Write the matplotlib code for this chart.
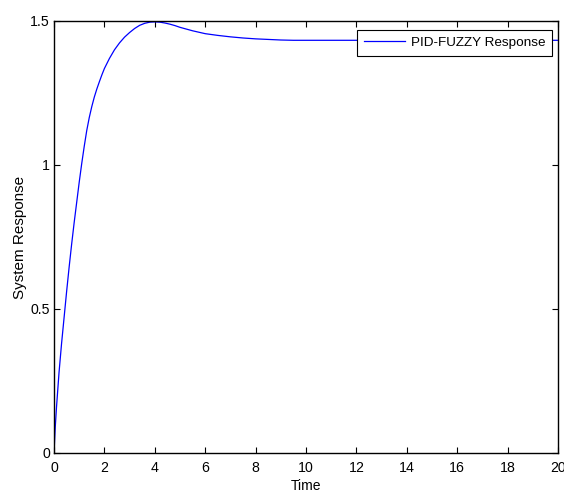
import matplotlib
matplotlib.use("Agg")
import matplotlib.pyplot as plt

time = [0, 0.05, 0.1, 0.2, 0.3, 0.4, 0.5, 0.6, 0.7, 0.8, 0.9, 1.0, 1.1, 1.2,
        1.3, 1.4, 1.5, 1.6, 1.7, 1.8, 1.9, 2.0, 2.2, 2.4, 2.6, 2.8, 3.0, 3.2,
        3.4, 3.6, 3.8, 4.0, 4.2, 4.4, 4.6, 4.8, 5.0, 5.5, 6.0, 6.5, 7.0, 7.5,
        8.0, 8.5, 9.0, 9.5, 10, 12, 14, 16, 18, 20]
response = [0, 0.09, 0.16, 0.28, 0.38, 0.47, 0.56, 0.645, 0.725, 0.80, 0.87,
            0.94, 1.005, 1.065, 1.12, 1.165, 1.203, 1.236, 1.264, 1.289, 1.313,
            1.335, 1.37, 1.40, 1.424, 1.444, 1.46, 1.474, 1.485, 1.492, 1.496,
            1.497, 1.496, 1.493, 1.489, 1.484, 1.478, 1.466, 1.456, 1.450,
            1.445, 1.441, 1.438, 1.436, 1.434, 1.433, 1.433, 1.433, 1.433,
            1.433, 1.433, 1.433]
xticks = [0, 2, 4, 6, 8, 10, 12, 14, 16, 18, 20]
yticks = [0, 0.5, 1, 1.5]
yticklabels = ["0", "0.5", "1", "1.5"]

plt.rcParams['font.family'] = ['Liberation Sans', 'DejaVu Sans']

fig = plt.figure(figsize=(5.64, 4.93), dpi=100)
ax = fig.add_axes([54/564, 1-453/493, (558-54)/564, (453-21)/493])
ax.plot(time, response, color=(0, 0, 1), lw=0.9, label="PID-FUZZY Response")
ax.set_xlim(0, 20)
ax.set_ylim(0, 1.5)
ax.set_xticks(xticks)
ax.set_xticklabels([str(x) for x in xticks])
ax.set_yticks(yticks)
ax.set_yticklabels(yticklabels)
ax.tick_params(direction='in', length=4, width=0.8, top=True, right=True,
               labelsize=10.2, colors='black')
ax.tick_params(axis='x', pad=6)
ax.tick_params(axis='y', pad=3)
for s in ax.spines.values():
    s.set_linewidth(1.0)
ax.set_xlabel("Time", fontsize=10, labelpad=2.5)
ax.set_ylabel("System Response", fontsize=11, labelpad=2)
leg = ax.legend(loc='upper right', bbox_to_anchor=(552/564, 1-30/493),
                bbox_transform=fig.transFigure, fontsize=9.7, frameon=True,
                fancybox=False, edgecolor='black', framealpha=1,
                handlelength=3.1, handletextpad=0.4, borderpad=0.5,
                borderaxespad=0)
leg.get_frame().set_linewidth(0.8)
fig.savefig("out.png", dpi=100)
